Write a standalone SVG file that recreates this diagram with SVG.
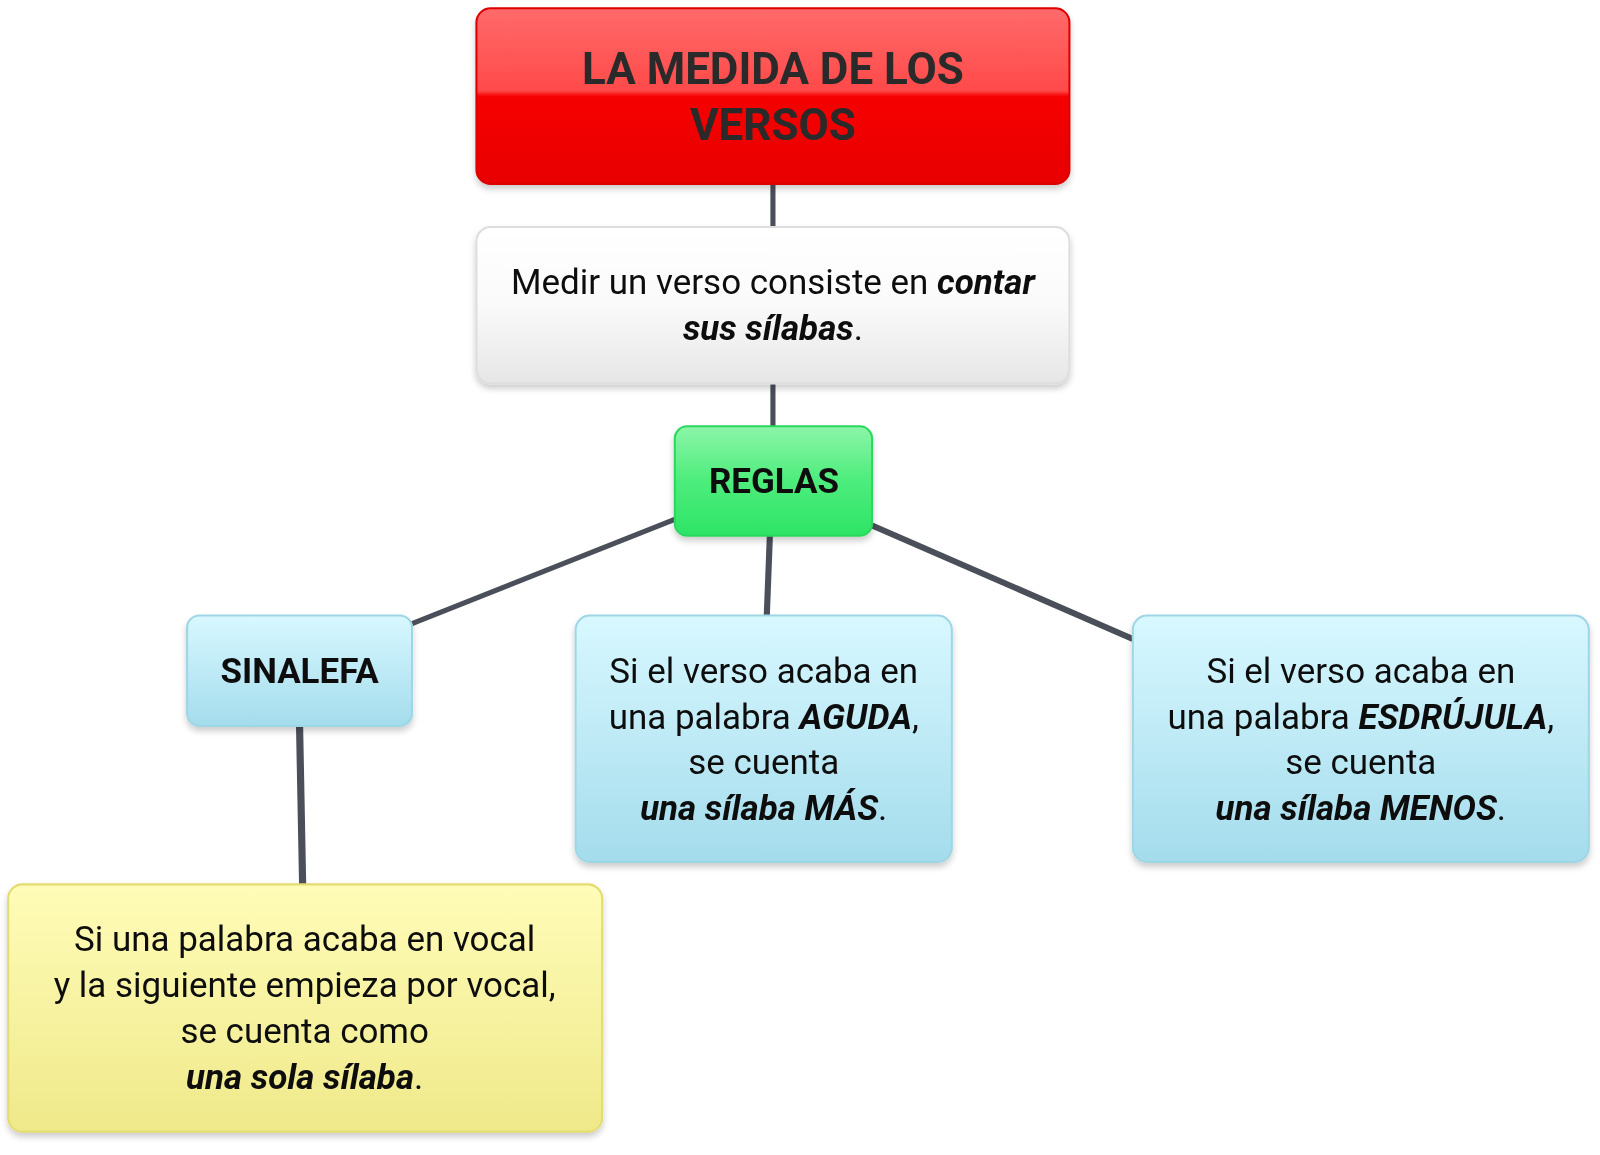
<svg xmlns="http://www.w3.org/2000/svg" width="1600" height="1155" viewBox="0 0 1600 1155">
<defs>
<linearGradient id="gRed" x1="0" y1="0" x2="0" y2="1"><stop offset="0" stop-color="#ff6a6a"/><stop offset="0.47" stop-color="#ff4a4a"/><stop offset="0.5" stop-color="#f60000"/><stop offset="1" stop-color="#e80000"/></linearGradient>
<linearGradient id="gWhite" x1="0" y1="0" x2="0" y2="1"><stop offset="0" stop-color="#ffffff"/><stop offset="0.5" stop-color="#fafafa"/><stop offset="1" stop-color="#e6e6e6"/></linearGradient>
<linearGradient id="gGreen" x1="0" y1="0" x2="0" y2="1"><stop offset="0" stop-color="#8cf5a8"/><stop offset="0.5" stop-color="#4ded7c"/><stop offset="1" stop-color="#2de466"/></linearGradient>
<linearGradient id="gBlue" x1="0" y1="0" x2="0" y2="1"><stop offset="0" stop-color="#d8f8ff"/><stop offset="1" stop-color="#a4dcec"/></linearGradient>
<linearGradient id="gYellow" x1="0" y1="0" x2="0" y2="1"><stop offset="0" stop-color="#fffcb8"/><stop offset="1" stop-color="#efe98a"/></linearGradient>
<filter id="sh" x="-10%" y="-10%" width="120%" height="130%"><feDropShadow dx="0" dy="4" stdDeviation="3" flood-color="#000" flood-opacity="0.2"/></filter>
</defs>
<style>
text{font-family:Roboto,"Liberation Sans",sans-serif;fill:#111;text-anchor:middle}
.t{font-size:34.2px}
.b{font-weight:bold}
.bi{font-weight:bold;font-style:italic}
.c{stroke:#4a4f5a;stroke-linecap:butt;fill:none}
</style>
<g transform="scale(1.0224)">
<g id="connectors">
<line class="c" x1="756" y1="180" x2="756" y2="222" stroke-width="5"/>
<line class="c" x1="756" y1="375" x2="756" y2="417" stroke-width="5"/>
<line class="c" x1="660" y1="508" x2="403" y2="610" stroke-width="5"/>
<line class="c" x1="753" y1="524" x2="750" y2="602" stroke-width="6"/>
<line class="c" x1="853" y1="514" x2="1108" y2="625" stroke-width="6"/>
<line class="c" x1="293" y1="710" x2="296" y2="865" stroke-width="7"/>
</g>
<g id="title" filter="url(#sh)">
<rect x="466" y="8" width="580" height="172" rx="14" fill="url(#gRed)" stroke="#dd0000" stroke-width="2"/>
<text class="b" font-size="43" x="756" y="82" style="fill:#2a2a2a">LA MEDIDA DE LOS</text>
<text class="b" font-size="43" x="756" y="137" style="fill:#2a2a2a">VERSOS</text>
</g>
<g id="def" filter="url(#sh)">
<rect x="466" y="222" width="580" height="153" rx="14" fill="url(#gWhite)" stroke="#dddddd" stroke-width="2"/>
<text class="t" x="756" y="288">Medir un verso consiste en <tspan class="bi">contar</tspan></text>
<text class="t" x="756" y="333"><tspan class="bi">sus sílabas</tspan>.</text>
</g>
<g id="reglas" filter="url(#sh)">
<rect x="660" y="417" width="193" height="107" rx="12" fill="url(#gGreen)" stroke="#2bd85e" stroke-width="2"/>
<text class="t b" x="757" y="482">REGLAS</text>
</g>
<g id="sinalefa" filter="url(#sh)">
<rect x="183" y="602" width="220" height="108" rx="12" fill="url(#gBlue)" stroke="#9fd6e6" stroke-width="2"/>
<text class="t b" x="293" y="668">SINALEFA</text>
</g>
<g id="aguda" filter="url(#sh)">
<rect x="563" y="602" width="368" height="241" rx="14" fill="url(#gBlue)" stroke="#9fd6e6" stroke-width="2"/>
<text class="t" x="747" y="668">Si el verso acaba en</text>
<text class="t" x="747" y="713">una palabra <tspan class="bi">AGUDA</tspan>,</text>
<text class="t" x="747" y="757">se cuenta</text>
<text class="t" x="747" y="802"><tspan class="bi">una sílaba MÁS</tspan>.</text>
</g>
<g id="esdrujula" filter="url(#sh)">
<rect x="1108" y="602" width="446" height="241" rx="14" fill="url(#gBlue)" stroke="#9fd6e6" stroke-width="2"/>
<text class="t" x="1331" y="668">Si el verso acaba en</text>
<text class="t" x="1331" y="713">una palabra <tspan class="bi">ESDRÚJULA</tspan>,</text>
<text class="t" x="1331" y="757">se cuenta</text>
<text class="t" x="1331" y="802"><tspan class="bi">una sílaba MENOS</tspan>.</text>
</g>
<g id="sinalefa-def" filter="url(#sh)">
<rect x="8" y="865" width="581" height="242" rx="14" fill="url(#gYellow)" stroke="#e3dc6e" stroke-width="2"/>
<text class="t" x="298" y="930">Si una palabra acaba en vocal</text>
<text class="t" x="298" y="975">y la siguiente empieza por vocal,</text>
<text class="t" x="298" y="1020">se cuenta como</text>
<text class="t" x="298" y="1065"><tspan class="bi">una sola sílaba</tspan>.</text>
</g>
</g>
</svg>
